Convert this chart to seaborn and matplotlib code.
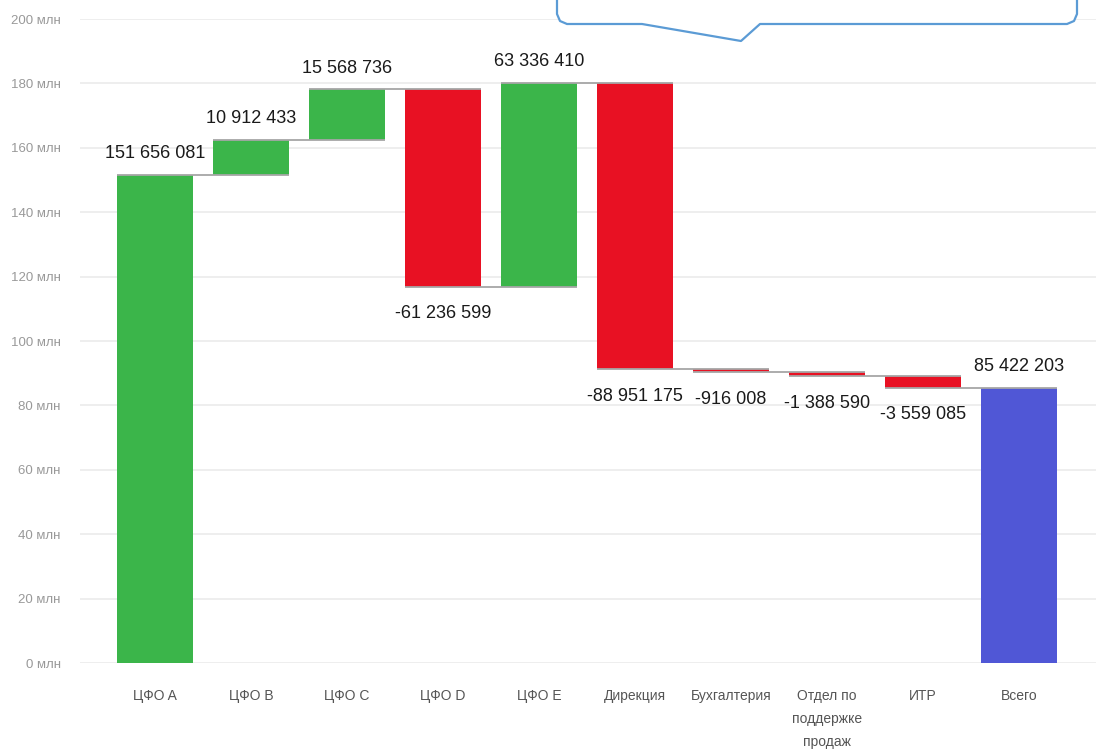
import numpy as np
import pandas as pd
import seaborn as sns
import matplotlib.pyplot as plt
from matplotlib.patches import Polygon

# Данные для каскадной диаграммы
categories = ["ЦФО A", "ЦФО B", "ЦФО C", "ЦФО D", "ЦФО E", "Дирекция",
              "Бухгалтерия", "Отдел по\nподдержке\nпродаж", "ИТР", "Всего"]
changes = [151656081, 10912433, 15568736, -61236599, 63336410,
           -88951175, -916008, -1388590, -3559085]
total = 85422203
y_ticks = [0, 20, 40, 60, 80, 100, 120, 140, 160, 180, 200]

sns.set_theme(style="white")
plt.rcParams['font.family'] = ['Liberation Sans', 'DejaVu Sans']

# Расчёт уровней (в млн)
values = changes + [total]
starts, ends = [], []
level = 0.0
for v in changes:
    starts.append(level)
    level += v / 1e6
    ends.append(level)
starts.append(0.0)
ends.append(total / 1e6)

bottoms = [min(s, e) for s, e in zip(starts, ends)]
heights = [abs(e - s) for s, e in zip(starts, ends)]
kinds = ["рост" if v > 0 else "снижение" for v in changes] + ["итог"]
palette_kinds = {"рост": "#3bb54a", "снижение": "#e81123", "итог": "#5057d6"}
colors = [palette_kinds[k] for k in kinds]

df = pd.DataFrame({"cat": categories, "height": heights})

fig = plt.figure(figsize=(10.96, 7.49), dpi=100)
ax = fig.add_axes([80 / 1096, 1 - 663 / 749, 1 - 80 / 1096, (663 - 19) / 749])

sns.barplot(data=df, x="cat", y="height", hue="cat", palette=colors,
            saturation=1, legend=False, width=0.79, ax=ax, zorder=2, linewidth=0)

# сдвигаем столбцы на их базовый уровень
for patch, b in zip(ax.patches, bottoms):
    patch.set_y(b)

# соединительные линии
w = 0.79
for i in range(len(changes)):
    ax.plot([i - w / 2, i + 1 + w / 2], [ends[i], ends[i]],
            color="#a6a6a6", lw=1.3, zorder=3, solid_capstyle="butt")

# подписи значений
for i, v in enumerate(values):
    txt = f"{v:,}".replace(",", " ")
    if v >= 0:
        y = bottoms[i] + heights[i] + 6.6
    else:
        y = bottoms[i] - 8.4
    ax.text(i, y, txt, ha="center", va="center", fontsize=13, color="#1a1a1a", zorder=4)

ax.set_xlim(-0.78, 9.8)
ax.set_ylim(0, 200)
ax.set_yticks(y_ticks)
ax.set_yticklabels([f"{t} млн" for t in y_ticks])
ax.yaxis.grid(True, color="#ebebeb", lw=1.2, zorder=0)
ax.set_axisbelow(True)
ax.tick_params(axis="y", length=0, pad=14, labelsize=9.5, labelcolor="#999999")
ax.tick_params(axis="x", length=0, pad=19, labelsize=10, labelcolor="#555555")
for lbl in ax.get_xticklabels():
    lbl.set_va("top")
    lbl.set_linespacing(1.8)
ax.set_xlabel("")
ax.set_ylabel("")
sns.despine(ax=ax, left=True, bottom=True)

# выноска в правом верхнем углу
W, H = 1096, 749
pts_px = [(557, -20), (557, 14), (560, 21), (567, 24), (642, 24), (741, 41),
          (760, 24), (1067, 24), (1074, 21), (1077, 14), (1077, -20)]
pts = [(x / W, 1 - y / H) for x, y in pts_px]
fig.patches.append(Polygon(pts, closed=False, transform=fig.transFigure,
                           facecolor="white", edgecolor="#5b9bd5", lw=1.6,
                           joinstyle="round", zorder=10))

fig.savefig("out.png", dpi=100)
